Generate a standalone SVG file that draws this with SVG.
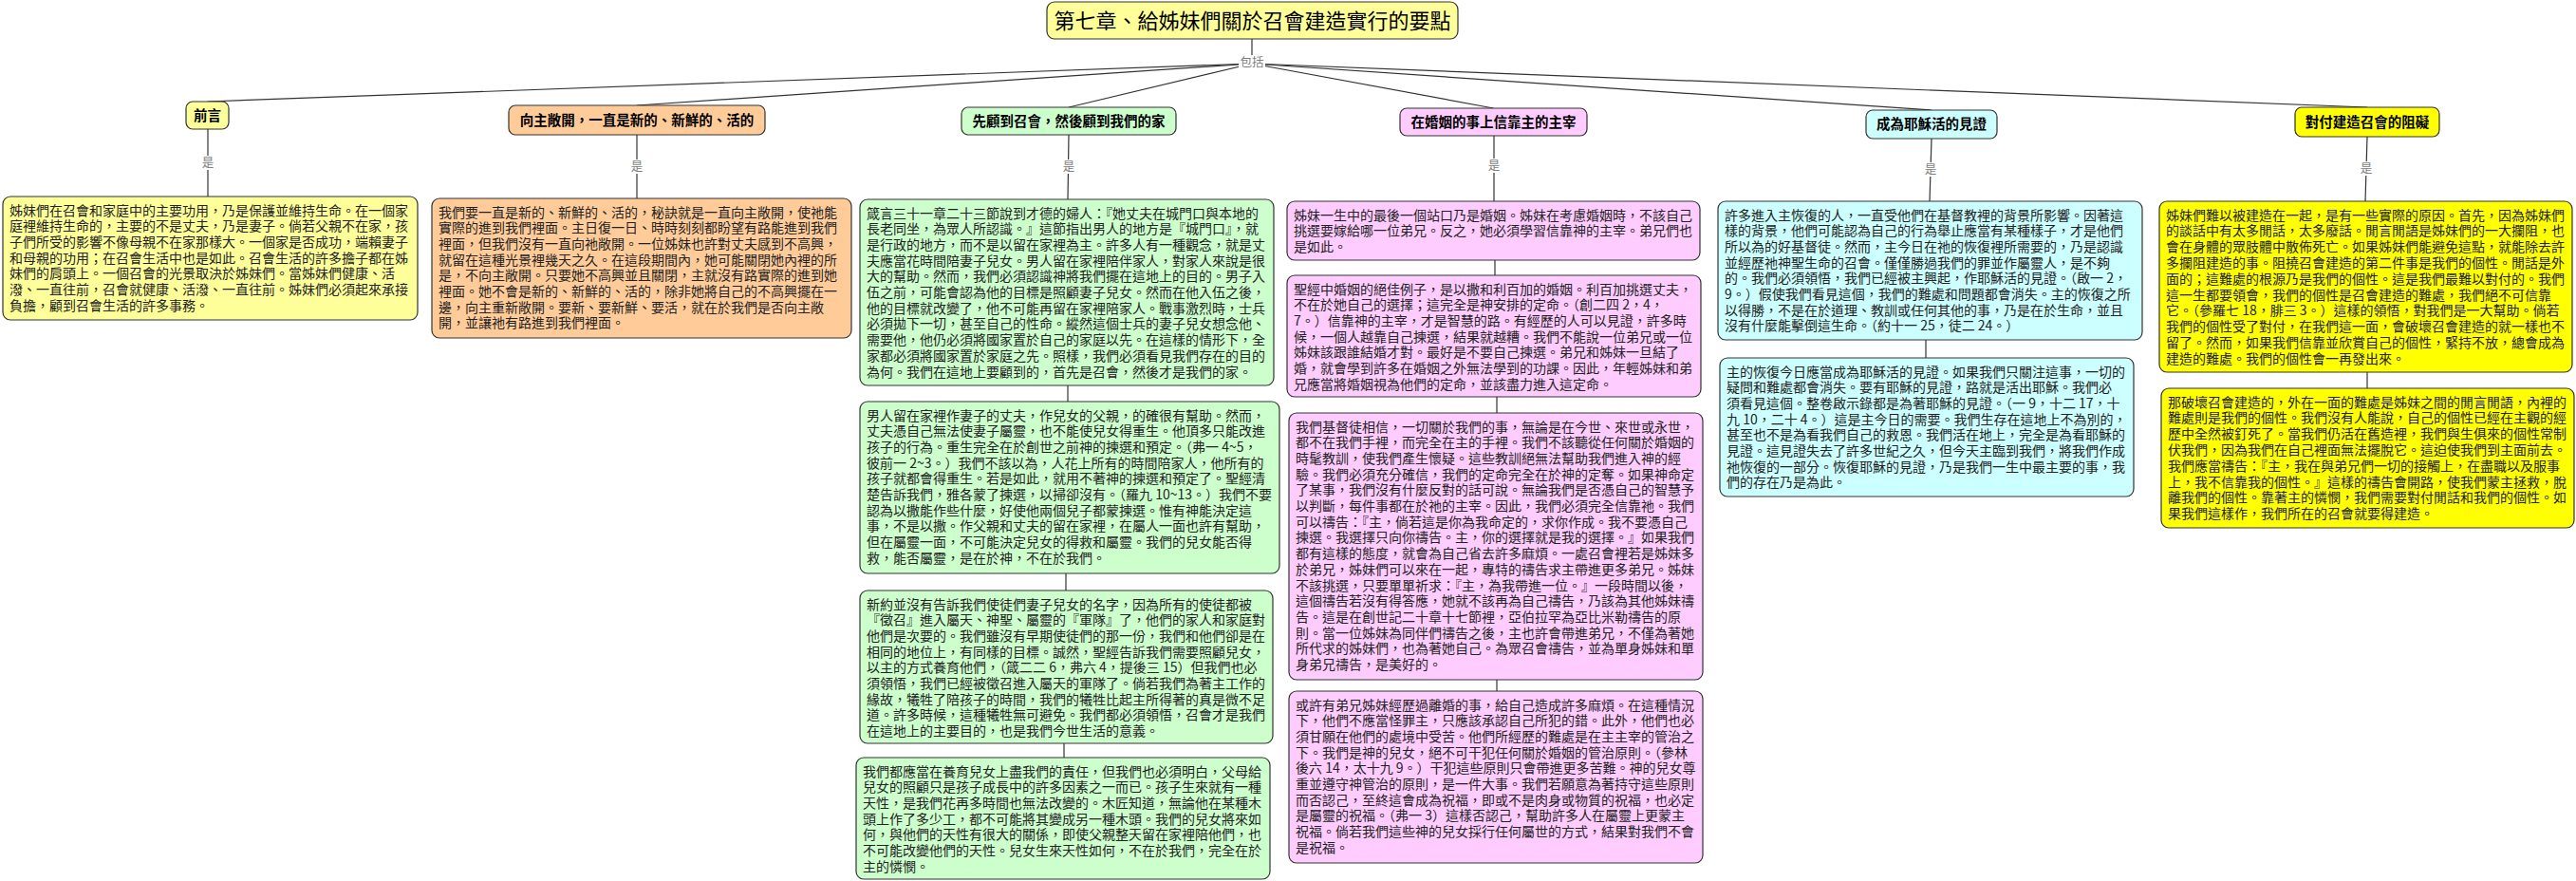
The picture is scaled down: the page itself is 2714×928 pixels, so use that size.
<svg xmlns="http://www.w3.org/2000/svg" width="2714" height="928" viewBox="0 0 2714 928">
<style>
.bx{stroke:#333;stroke-width:1.2}
.y1{fill:#FFFF99}.or{fill:#FFCC99}.gr{fill:#CCFFCC}.pk{fill:#FFCCFF}.cy{fill:#CCFFFF}.y2{fill:#FFFF00}
.t{font-family:"Noto Sans CJK TC","Noto Sans CJK SC",sans-serif;font-size:14px;fill:#222}
.h{font-family:"Noto Sans CJK TC","Noto Sans CJK SC",sans-serif;font-size:14.5px;font-weight:bold;fill:#000;text-anchor:middle}
.ttl{font-family:"Noto Sans CJK TC","Noto Sans CJK SC",sans-serif;font-size:22px;fill:#000;text-anchor:middle}
.lbl{font-family:"Noto Sans CJK TC","Noto Sans CJK SC",sans-serif;font-size:12.5px;fill:#808080;text-anchor:middle}
.c line{stroke:#333;stroke-width:1.2}
.lb{fill:#fff}
</style>
<rect width="2714" height="928" fill="#fff"/>
<g id="connectors" class="c">
<line x1="1319" y1="41" x2="1319" y2="67"/>
<line x1="1319" y1="67" x2="218.5" y2="107"/>
<line x1="1319" y1="67" x2="671" y2="111"/>
<line x1="1319" y1="67" x2="1126" y2="113"/>
<line x1="1319" y1="67" x2="1573.5" y2="114"/>
<line x1="1319" y1="67" x2="2035" y2="116"/>
<line x1="1319" y1="67" x2="2494" y2="113"/>
<line x1="219" y1="136" x2="219" y2="207"/>
<line x1="671" y1="142" x2="671" y2="209"/>
<line x1="1126" y1="142" x2="1125" y2="210"/>
<line x1="1125" y1="406" x2="1125" y2="423"/>
<line x1="1123" y1="604" x2="1123" y2="622"/>
<line x1="1121" y1="783" x2="1121" y2="798"/>
<line x1="1574" y1="143" x2="1574" y2="212"/>
<line x1="1575" y1="274" x2="1575" y2="290"/>
<line x1="1577" y1="418" x2="1577" y2="435"/>
<line x1="1577" y1="716" x2="1577" y2="728"/>
<line x1="2035" y1="146" x2="2033" y2="212"/>
<line x1="2029" y1="358" x2="2029" y2="377"/>
<line x1="2494" y1="144" x2="2492" y2="212"/>
<line x1="2494" y1="392" x2="2494" y2="409"/>
<rect class="lb" x="1305" y="58" width="28" height="15"/>
<text class="lbl" x="1319" y="70">包括</text>
<rect class="lb" x="211" y="164" width="16" height="15"/>
<text class="lbl" x="219" y="176">是</text>
<rect class="lb" x="663" y="168" width="16" height="15"/>
<text class="lbl" x="671" y="180">是</text>
<rect class="lb" x="1118" y="168" width="16" height="15"/>
<text class="lbl" x="1126" y="180">是</text>
<rect class="lb" x="1566" y="167" width="16" height="15"/>
<text class="lbl" x="1574" y="179">是</text>
<rect class="lb" x="2026" y="171" width="16" height="15"/>
<text class="lbl" x="2034" y="183">是</text>
<rect class="lb" x="2485" y="170" width="16" height="15"/>
<text class="lbl" x="2493" y="182">是</text>
</g>
<g id="title">
<rect class="bx y1" x="1103" y="2" width="433" height="39" rx="8"/>
<text class="ttl" x="1319.5" y="29.5">第七章、給姊妹們關於召會建造實行的要點</text>
</g>
<g id="h-preface">
<rect class="bx y1" x="196" y="107" width="45" height="29" rx="7"/>
<text class="h" x="218.5" y="126.5">前言</text>
</g>
<g id="h-open">
<rect class="bx or" x="536" y="111" width="270" height="31" rx="7"/>
<text class="h" x="671" y="131.5">向主敞開，一直是新的、新鮮的、活的</text>
</g>
<g id="h-church">
<rect class="bx gr" x="1013" y="113" width="226" height="29" rx="7"/>
<text class="h" x="1126" y="132.5">先顧到召會，然後顧到我們的家</text>
</g>
<g id="h-marriage">
<rect class="bx pk" x="1475" y="114" width="197" height="29" rx="7"/>
<text class="h" x="1573.5" y="133.5">在婚姻的事上信靠主的主宰</text>
</g>
<g id="h-witness">
<rect class="bx cy" x="1966" y="116" width="138" height="30" rx="7"/>
<text class="h" x="2035" y="136">成為耶穌活的見證</text>
</g>
<g id="h-hindrance">
<rect class="bx y2" x="2418" y="113" width="152" height="31" rx="7"/>
<text class="h" x="2494" y="133.5">對付建造召會的阻礙</text>
</g>
<g id="n-preface">
<rect class="bx y1" x="3" y="207" width="437" height="130" rx="8"/>
<text class="t" x="10" y="226.5"><tspan x="10">姊妹們在召會和家庭中的主要功用，乃是保護並維持生命。在一個家</tspan><tspan x="10" dy="16.7">庭裡維持生命的，主要的不是丈夫，乃是妻子。倘若父親不在家，孩</tspan><tspan x="10" dy="16.7">子們所受的影響不像母親不在家那樣大。一個家是否成功，端賴妻子</tspan><tspan x="10" dy="16.7">和母親的功用；在召會生活中也是如此。召會生活的許多擔子都在姊</tspan><tspan x="10" dy="16.7">妹們的肩頭上。一個召會的光景取決於姊妹們。當姊妹們健康、活</tspan><tspan x="10" dy="16.7">潑、一直往前，召會就健康、活潑、一直往前。姊妹們必須起來承接</tspan><tspan x="10" dy="16.7">負擔，顧到召會生活的許多事務。</tspan></text>
</g>
<g id="n-open">
<rect class="bx or" x="455" y="209" width="442" height="147" rx="8"/>
<text class="t" x="462" y="228.5"><tspan x="462">我們要一直是新的、新鮮的、活的，秘訣就是一直向主敞開，使祂能</tspan><tspan x="462" dy="16.7">實際的進到我們裡面。主日復一日、時時刻刻都盼望有路能進到我們</tspan><tspan x="462" dy="16.7">裡面，但我們沒有一直向祂敞開。一位姊妹也許對丈夫感到不高興，</tspan><tspan x="462" dy="16.7">就留在這種光景裡幾天之久。在這段期間內，她可能關閉她內裡的所</tspan><tspan x="462" dy="16.7">是，不向主敞開。只要她不高興並且關閉，主就沒有路實際的進到她</tspan><tspan x="462" dy="16.7">裡面。她不會是新的、新鮮的、活的，除非她將自己的不高興擺在一</tspan><tspan x="462" dy="16.7">邊，向主重新敞開。要新、要新鮮、要活，就在於我們是否向主敞</tspan><tspan x="462" dy="16.7">開，並讓祂有路進到我們裡面。</tspan></text>
</g>
<g id="n-church-1">
<rect class="bx gr" x="906" y="210" width="436" height="196" rx="8"/>
<text class="t" x="913" y="229.5"><tspan x="913">箴言三十一章二十三節說到才德的婦人：『她丈夫在城門口與本地的</tspan><tspan x="913" dy="16.7">長老同坐，為眾人所認識。』這節指出男人的地方是『城門口』，就</tspan><tspan x="913" dy="16.7">是行政的地方，而不是以留在家裡為主。許多人有一種觀念，就是丈</tspan><tspan x="913" dy="16.7">夫應當花時間陪妻子兒女。男人留在家裡陪伴家人，對家人來說是很</tspan><tspan x="913" dy="16.7">大的幫助。然而，我們必須認識神將我們擺在這地上的目的。男子入</tspan><tspan x="913" dy="16.7">伍之前，可能會認為他的目標是照顧妻子兒女。然而在他入伍之後，</tspan><tspan x="913" dy="16.7">他的目標就改變了，他不可能再留在家裡陪家人。戰事激烈時，士兵</tspan><tspan x="913" dy="16.7">必須拋下一切，甚至自己的性命。縱然這個士兵的妻子兒女想念他、</tspan><tspan x="913" dy="16.7">需要他，他仍必須將國家置於自己的家庭以先。在這樣的情形下，全</tspan><tspan x="913" dy="16.7">家都必須將國家置於家庭之先。照樣，我們必須看見我們存在的目的</tspan><tspan x="913" dy="16.7">為何。我們在這地上要顧到的，首先是召會，然後才是我們的家。</tspan></text>
</g>
<g id="n-church-2">
<rect class="bx gr" x="906" y="423" width="442" height="181" rx="8"/>
<text class="t" x="913" y="442.5"><tspan x="913">男人留在家裡作妻子的丈夫，作兒女的父親，的確很有幫助。然而，</tspan><tspan x="913" dy="16.7">丈夫憑自己無法使妻子屬靈，也不能使兒女得重生。他頂多只能改進</tspan><tspan x="913" dy="16.7">孩子的行為。重生完全在於創世之前神的揀選和預定。（弗一 4~5，</tspan><tspan x="913" dy="16.7">彼前一 2~3。）我們不該以為，人花上所有的時間陪家人，他所有的</tspan><tspan x="913" dy="16.7">孩子就都會得重生。若是如此，就用不著神的揀選和預定了。聖經清</tspan><tspan x="913" dy="16.7">楚告訴我們，雅各蒙了揀選，以掃卻沒有。（羅九 10~13。）我們不要</tspan><tspan x="913" dy="16.7">認為以撒能作些什麼，好使他兩個兒子都蒙揀選。惟有神能決定這</tspan><tspan x="913" dy="16.7">事，不是以撒。作父親和丈夫的留在家裡，在屬人一面也許有幫助，</tspan><tspan x="913" dy="16.7">但在屬靈一面，不可能決定兒女的得救和屬靈。我們的兒女能否得</tspan><tspan x="913" dy="16.7">救，能否屬靈，是在於神，不在於我們。</tspan></text>
</g>
<g id="n-church-3">
<rect class="bx gr" x="906" y="622" width="435" height="161" rx="8"/>
<text class="t" x="913" y="641.5"><tspan x="913">新約並沒有告訴我們使徒們妻子兒女的名字，因為所有的使徒都被</tspan><tspan x="913" dy="16.7">『徵召』進入屬天、神聖、屬靈的『軍隊』了，他們的家人和家庭對</tspan><tspan x="913" dy="16.7">他們是次要的。我們雖沒有早期使徒們的那一份，我們和他們卻是在</tspan><tspan x="913" dy="16.7">相同的地位上，有同樣的目標。誠然，聖經告訴我們需要照顧兒女，</tspan><tspan x="913" dy="16.7">以主的方式養育他們，（箴二二 6，弗六 4，提後三 15）但我們也必</tspan><tspan x="913" dy="16.7">須領悟，我們已經被徵召進入屬天的軍隊了。倘若我們為著主工作的</tspan><tspan x="913" dy="16.7">緣故，犧牲了陪孩子的時間，我們的犧牲比起主所得著的真是微不足</tspan><tspan x="913" dy="16.7">道。許多時候，這種犧牲無可避免。我們都必須領悟，召會才是我們</tspan><tspan x="913" dy="16.7">在這地上的主要目的，也是我們今世生活的意義。</tspan></text>
</g>
<g id="n-church-4">
<rect class="bx gr" x="902" y="798" width="436" height="128" rx="8"/>
<text class="t" x="909" y="817.5"><tspan x="909">我們都應當在養育兒女上盡我們的責任，但我們也必須明白，父母給</tspan><tspan x="909" dy="16.7">兒女的照顧只是孩子成長中的許多因素之一而已。孩子生來就有一種</tspan><tspan x="909" dy="16.7">天性，是我們花再多時間也無法改變的。木匠知道，無論他在某種木</tspan><tspan x="909" dy="16.7">頭上作了多少工，都不可能將其變成另一種木頭。我們的兒女將來如</tspan><tspan x="909" dy="16.7">何，與他們的天性有很大的關係，即使父親整天留在家裡陪他們，也</tspan><tspan x="909" dy="16.7">不可能改變他們的天性。兒女生來天性如何，不在於我們，完全在於</tspan><tspan x="909" dy="16.7">主的憐憫。</tspan></text>
</g>
<g id="n-marriage-1">
<rect class="bx pk" x="1356" y="212" width="435" height="62" rx="8"/>
<text class="t" x="1363" y="231.5"><tspan x="1363">姊妹一生中的最後一個站口乃是婚姻。姊妹在考慮婚姻時，不該自己</tspan><tspan x="1363" dy="16.7">挑選要嫁給哪一位弟兄。反之，她必須學習信靠神的主宰。弟兄們也</tspan><tspan x="1363" dy="16.7">是如此。</tspan></text>
</g>
<g id="n-marriage-2">
<rect class="bx pk" x="1356" y="290" width="436" height="128" rx="8"/>
<text class="t" x="1363" y="309.5"><tspan x="1363">聖經中婚姻的絕佳例子，是以撒和利百加的婚姻。利百加挑選丈夫，</tspan><tspan x="1363" dy="16.7">不在於她自己的選擇；這完全是神安排的定命。（創二四 2，4，</tspan><tspan x="1363" dy="16.7">7。）信靠神的主宰，才是智慧的路。有經歷的人可以見證，許多時</tspan><tspan x="1363" dy="16.7">候，一個人越靠自己揀選，結果就越糟。我們不能說一位弟兄或一位</tspan><tspan x="1363" dy="16.7">姊妹該跟誰結婚才對。最好是不要自己揀選。弟兄和姊妹一旦結了</tspan><tspan x="1363" dy="16.7">婚，就會學到許多在婚姻之外無法學到的功課。因此，年輕姊妹和弟</tspan><tspan x="1363" dy="16.7">兄應當將婚姻視為他們的定命，並該盡力進入這定命。</tspan></text>
</g>
<g id="n-marriage-3">
<rect class="bx pk" x="1358" y="435" width="436" height="281" rx="8"/>
<text class="t" x="1365" y="454.5"><tspan x="1365">我們基督徒相信，一切關於我們的事，無論是在今世、來世或永世，</tspan><tspan x="1365" dy="16.7">都不在我們手裡，而完全在主的手裡。我們不該聽從任何關於婚姻的</tspan><tspan x="1365" dy="16.7">時髦教訓，使我們產生懷疑。這些教訓絕無法幫助我們進入神的經</tspan><tspan x="1365" dy="16.7">驗。我們必須充分確信，我們的定命完全在於神的定奪。如果神命定</tspan><tspan x="1365" dy="16.7">了某事，我們沒有什麼反對的話可說。無論我們是否憑自己的智慧予</tspan><tspan x="1365" dy="16.7">以判斷，每件事都在於祂的主宰。因此，我們必須完全信靠祂。我們</tspan><tspan x="1365" dy="16.7">可以禱告：『主，倘若這是你為我命定的，求你作成。我不要憑自己</tspan><tspan x="1365" dy="16.7">揀選。我選擇只向你禱告。主，你的選擇就是我的選擇。』如果我們</tspan><tspan x="1365" dy="16.7">都有這樣的態度，就會為自己省去許多麻煩。一處召會裡若是姊妹多</tspan><tspan x="1365" dy="16.7">於弟兄，姊妹們可以來在一起，專特的禱告求主帶進更多弟兄。姊妹</tspan><tspan x="1365" dy="16.7">不該挑選，只要單單祈求：『主，為我帶進一位。』一段時間以後，</tspan><tspan x="1365" dy="16.7">這個禱告若沒有得答應，她就不該再為自己禱告，乃該為其他姊妹禱</tspan><tspan x="1365" dy="16.7">告。這是在創世記二十章十七節裡，亞伯拉罕為亞比米勒禱告的原</tspan><tspan x="1365" dy="16.7">則。當一位姊妹為同伴們禱告之後，主也許會帶進弟兄，不僅為著她</tspan><tspan x="1365" dy="16.7">所代求的姊妹們，也為著她自己。為眾召會禱告，並為單身姊妹和單</tspan><tspan x="1365" dy="16.7">身弟兄禱告，是美好的。</tspan></text>
</g>
<g id="n-marriage-4">
<rect class="bx pk" x="1358" y="728" width="436" height="181" rx="8"/>
<text class="t" x="1365" y="747.5"><tspan x="1365">或許有弟兄姊妹經歷過離婚的事，給自己造成許多麻煩。在這種情況</tspan><tspan x="1365" dy="16.7">下，他們不應當怪罪主，只應該承認自己所犯的錯。此外，他們也必</tspan><tspan x="1365" dy="16.7">須甘願在他們的處境中受苦。他們所經歷的難處是在主主宰的管治之</tspan><tspan x="1365" dy="16.7">下。我們是神的兒女，絕不可干犯任何關於婚姻的管治原則。（參林</tspan><tspan x="1365" dy="16.7">後六 14，太十九 9。）干犯這些原則只會帶進更多苦難。神的兒女尊</tspan><tspan x="1365" dy="16.7">重並遵守神管治的原則，是一件大事。我們若願意為著持守這些原則</tspan><tspan x="1365" dy="16.7">而否認己，至終這會成為祝福，即或不是肉身或物質的祝福，也必定</tspan><tspan x="1365" dy="16.7">是屬靈的祝福。（弗一 3）這樣否認己，幫助許多人在屬靈上更蒙主</tspan><tspan x="1365" dy="16.7">祝福。倘若我們這些神的兒女採行任何屬世的方式，結果對我們不會</tspan><tspan x="1365" dy="16.7">是祝福。</tspan></text>
</g>
<g id="n-witness-1">
<rect class="bx cy" x="1810" y="212" width="447" height="146" rx="8"/>
<text class="t" x="1817" y="231.5"><tspan x="1817">許多進入主恢復的人，一直受他們在基督教裡的背景所影響。因著這</tspan><tspan x="1817" dy="16.7">樣的背景，他們可能認為自己的行為舉止應當有某種樣子，才是他們</tspan><tspan x="1817" dy="16.7">所以為的好基督徒。然而，主今日在祂的恢復裡所需要的，乃是認識</tspan><tspan x="1817" dy="16.7">並經歷祂神聖生命的召會。僅僅勝過我們的罪並作屬靈人，是不夠</tspan><tspan x="1817" dy="16.7">的。我們必須領悟，我們已經被主興起，作耶穌活的見證。（啟一 2，</tspan><tspan x="1817" dy="16.7">9。）假使我們看見這個，我們的難處和問題都會消失。主的恢復之所</tspan><tspan x="1817" dy="16.7">以得勝，不是在於道理、教訓或任何其他的事，乃是在於生命，並且</tspan><tspan x="1817" dy="16.7">沒有什麼能擊倒這生命。（約十一 25，徒二 24。）</tspan></text>
</g>
<g id="n-witness-2">
<rect class="bx cy" x="1812" y="377" width="436" height="146" rx="8"/>
<text class="t" x="1819" y="396.5"><tspan x="1819">主的恢復今日應當成為耶穌活的見證。如果我們只關注這事，一切的</tspan><tspan x="1819" dy="16.7">疑問和難處都會消失。要有耶穌的見證，路就是活出耶穌。我們必</tspan><tspan x="1819" dy="16.7">須看見這個。整卷啟示錄都是為著耶穌的見證。（一 9，十二 17，十</tspan><tspan x="1819" dy="16.7">九 10，二十 4。）這是主今日的需要。我們生存在這地上不為別的，</tspan><tspan x="1819" dy="16.7">甚至也不是為看我們自己的救恩。我們活在地上，完全是為看耶穌的</tspan><tspan x="1819" dy="16.7">見證。這見證失去了許多世紀之久，但今天主臨到我們，將我們作成</tspan><tspan x="1819" dy="16.7">祂恢復的一部分。恢復耶穌的見證，乃是我們一生中最主要的事，我</tspan><tspan x="1819" dy="16.7">們的存在乃是為此。</tspan></text>
</g>
<g id="n-hindrance-1">
<rect class="bx y2" x="2275" y="212" width="435" height="180" rx="8"/>
<text class="t" x="2282" y="231.5"><tspan x="2282">姊妹們難以被建造在一起，是有一些實際的原因。首先，因為姊妹們</tspan><tspan x="2282" dy="16.8">的談話中有太多閒話，太多廢話。閒言閒語是姊妹們的一大攔阻，也</tspan><tspan x="2282" dy="16.8">會在身體的眾肢體中散佈死亡。如果姊妹們能避免這點，就能除去許</tspan><tspan x="2282" dy="16.8">多攔阻建造的事。阻撓召會建造的第二件事是我們的個性。閒話是外</tspan><tspan x="2282" dy="16.8">面的；這難處的根源乃是我們的個性。這是我們最難以對付的。我們</tspan><tspan x="2282" dy="16.8">這一生都要領會，我們的個性是召會建造的難處，我們絕不可信靠</tspan><tspan x="2282" dy="16.8">它。（參羅七 18，腓三 3。）這樣的領悟，對我們是一大幫助。倘若</tspan><tspan x="2282" dy="16.8">我們的個性受了對付，在我們這一面，會破壞召會建造的就一樣也不</tspan><tspan x="2282" dy="16.8">留了。然而，如果我們信靠並欣賞自己的個性，緊持不放，總會成為</tspan><tspan x="2282" dy="16.8">建造的難處。我們的個性會一再發出來。</tspan></text>
</g>
<g id="n-hindrance-2">
<rect class="bx y2" x="2277" y="409" width="435" height="147" rx="8"/>
<text class="t" x="2284" y="428.5"><tspan x="2284">那破壞召會建造的，外在一面的難處是姊妹之間的閒言閒語，內裡的</tspan><tspan x="2284" dy="16.8">難處則是我們的個性。我們沒有人能說，自己的個性已經在主觀的經</tspan><tspan x="2284" dy="16.8">歷中全然被釘死了。當我們仍活在舊造裡，我們與生俱來的個性常制</tspan><tspan x="2284" dy="16.8">伏我們，因為我們在自己裡面無法擺脫它。這迫使我們到主面前去。</tspan><tspan x="2284" dy="16.8">我們應當禱告：『主，我在與弟兄們一切的接觸上，在盡職以及服事</tspan><tspan x="2284" dy="16.8">上，我不信靠我的個性。』這樣的禱告會開路，使我們蒙主拯救，脫</tspan><tspan x="2284" dy="16.8">離我們的個性。靠著主的憐憫，我們需要對付閒話和我們的個性。如</tspan><tspan x="2284" dy="16.8">果我們這樣作，我們所在的召會就要得建造。</tspan></text>
</g>
</svg>
